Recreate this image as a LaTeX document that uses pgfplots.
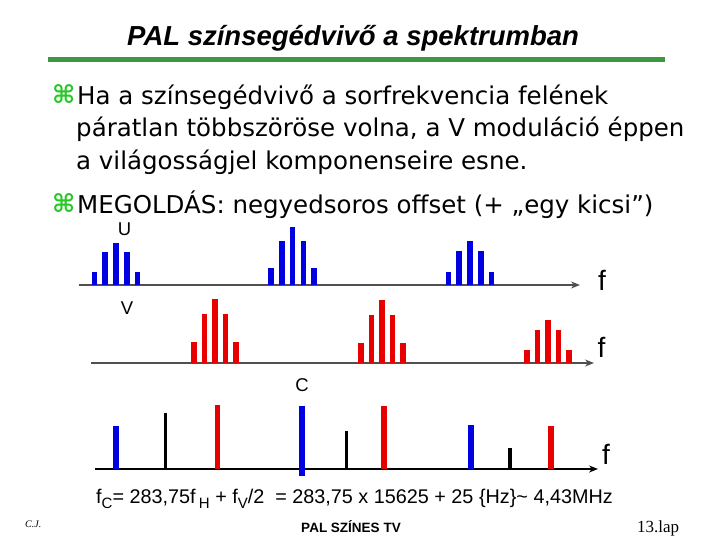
\documentclass[border=0pt]{standalone}
\usepackage{fontspec}
\usepackage{pgfplots}
\pgfplotsset{compat=1.18}
\usetikzlibrary{arrows.meta}
\setmainfont{Liberation Sans}
\newfontfamily\bodyf{DejaVu Sans}
\newfontfamily\serf{Liberation Serif}
\definecolor{barblue}{RGB}{0,0,225}
\definecolor{barred}{RGB}{232,0,0}
\definecolor{rulegreen}{RGB}{63,152,63}
\definecolor{bulletgreen}{RGB}{40,200,40}
\definecolor{axgray}{RGB}{80,80,80}
\newcommand\fs[1]{\fontsize{#1bp}{#1bp}\selectfont}
\newcommand\sub[1]{\raisebox{-0.3em}{\fs{15}#1}}
\tikzset{txt/.style={inner sep=0pt, anchor=base west}}
\begin{document}
\begin{tikzpicture}
\begin{axis}[
  scale only axis, width=720bp, height=540bp,
  xmin=0, xmax=720, ymin=0, ymax=540, y dir=reverse,
  hide axis, clip=false,
  unbounded coords=jump,
  spec/.style={line width=5.6bp, line cap=butt},
  base/.style={axgray, line width=2bp, -{Stealth[length=9bp,width=7bp]}},
]
\fill[white] (axis cs:0,0) rectangle (axis cs:720,540);

% title and rule
\node[txt, font=\bfseries\itshape\fs{27.5}] at (axis cs:127,46) {PAL színsegédvivő a spektrumban};
\draw[rulegreen, line width=5bp] (axis cs:48,60) -- (axis cs:665,60);

% bullet text
\node[txt, text=bulletgreen, font=\bodyf\bfseries\fs{25}] at (axis cs:52,104) {⌘};
\node[txt, text=bulletgreen, font=\bodyf\bfseries\fs{25}] at (axis cs:52,213) {⌘};
\node[txt, font=\bodyf\fs{24.5}] at (axis cs:77,105) {Ha a színsegédvivő a sorfrekvencia felének};
\node[txt, font=\bodyf\fs{24.5}] at (axis cs:76,136.5) {páratlan többszöröse volna, a V moduláció éppen};
\node[txt, font=\bodyf\fs{24.5}] at (axis cs:76,170) {a világosságjel komponenseire esne.};
\node[txt, font=\bodyf\fs{24.5}] at (axis cs:77,214) {MEGOLDÁS: negyedsoros offset (+ „egy kicsi”)};

% U spectrum
\addplot[base] coordinates {(78.5,285) (580,285)};
\addplot[barblue, spec] coordinates {
  (94.4,285) (94.4,272.3) (94.4,nan)
  (105.2,285) (105.2,252.3) (105.2,nan)
  (116,285) (116,243) (116,nan)
  (126.8,285) (126.8,252.3) (126.8,nan)
  (137.6,285) (137.6,272.3) (137.6,nan)
  (270.9,285) (270.9,267.7) (270.9,nan)
  (281.7,285) (281.7,241) (281.7,nan)
  (292.5,285) (292.5,227.3) (292.5,nan)
  (303.3,285) (303.3,241) (303.3,nan)
  (314.1,285) (314.1,267.7) (314.1,nan)
  (448.4,285) (448.4,272.3) (448.4,nan)
  (459.2,285) (459.2,251) (459.2,nan)
  (470,285) (470,241) (470,nan)
  (480.8,285) (480.8,251) (480.8,nan)
  (491.6,285) (491.6,272.3)
};
\node[txt, anchor=base, font=\fs{18.5}] at (axis cs:124.6,235.5) {U};
\node[txt, anchor=base, font=\fs{28}] at (axis cs:602,290) {f};

% V spectrum
\addplot[base] coordinates {(91,363) (594,363)};
\addplot[barred, spec] coordinates {
  (193.8,363) (193.8,342.3) (193.8,nan)
  (204.4,363) (204.4,314) (204.4,nan)
  (215,363) (215,299) (215,nan)
  (225.6,363) (225.6,314) (225.6,nan)
  (236.2,363) (236.2,342.3) (236.2,nan)
  (360.8,363) (360.8,343.3) (360.8,nan)
  (371.4,363) (371.4,314.7) (371.4,nan)
  (382,363) (382,300.3) (382,nan)
  (392.6,363) (392.6,314.7) (392.6,nan)
  (403.2,363) (403.2,343.3) (403.2,nan)
  (526.8,363) (526.8,350.3) (526.8,nan)
  (537.4,363) (537.4,330) (537.4,nan)
  (548,363) (548,320) (548,nan)
  (558.6,363) (558.6,330) (558.6,nan)
  (569.2,363) (569.2,350.3)
};
\node[txt, anchor=base, font=\fs{18.5}] at (axis cs:127,314.5) {V};
\node[txt, anchor=base, font=\fs{28}] at (axis cs:601.5,357) {f};

% C spectrum
\addplot[base, black] coordinates {(95,469) (598,469)};
\addplot[barblue, spec] coordinates {
  (115.8,469) (115.8,426) (115.8,nan)
  (302,476) (302,406) (302,nan)
  (470.8,469) (470.8,425)
};
\addplot[barred, spec] coordinates {
  (217.3,469) (217.3,405) (217.3,nan)
  (384,469) (384,406) (384,nan)
  (550.8,469) (550.8,426)
};
\addplot[black, spec, line width=3.5bp] coordinates {
  (165.4,469) (165.4,412.7) (165.4,nan)
  (346.5,469) (346.5,431) (346.5,nan)
  (510,469) (510,448.3)
};
\node[txt, anchor=base, font=\fs{18.5}] at (axis cs:302,391.5) {C};
\node[txt, anchor=base, font=\fs{28}] at (axis cs:606,464) {f};

% formula and footer
\node[txt, font=\fs{19.8}] at (axis cs:96,503) {f\sub{C}= 283,75f\,\sub{H} + f\sub{V}/2\ \ = 283,75 x 15625 + 25 \{Hz\}\textasciitilde\ 4,43MHz};
\node[txt, font=\serf\itshape\fs{10}] at (axis cs:25,527.5) {C.J.};
\node[txt, anchor=base, font=\bfseries\fs{13.5}] at (axis cs:351,532) {PAL SZÍNES TV};
\node[txt, font=\serf\fs{17}] at (axis cs:637,532) {13.lap};
\end{axis}
\end{tikzpicture}
\end{document}
